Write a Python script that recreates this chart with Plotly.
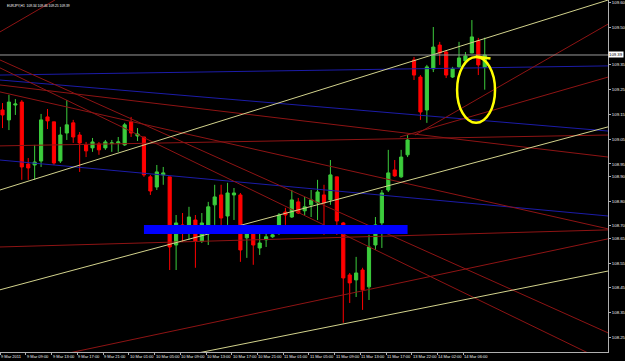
import plotly.graph_objects as go

# ---------------- data ----------------
opens = [109.168, 109.128, 109.188, 109.200, 108.950, 108.946, 108.962, 109.140, 109.120, 108.962,
         109.075, 109.116, 109.067, 109.027, 109.015, 109.031, 109.015, 109.033, 109.035, 109.027,
         109.120, 109.063, 109.059, 108.898, 108.857, 108.906, 108.898, 108.623, 108.704, 108.696,
         108.724, 108.639, 108.704, 108.785, 108.825, 108.740, 108.825, 108.825, 108.652, 108.684,
         108.611, 108.644, 108.656, 108.672, 108.756, 108.736, 108.797, 108.761, 108.785, 108.793,
         108.825, 108.805, 108.898, 108.712, 108.502, 108.482, 108.522, 108.454, 108.623, 108.712,
         108.845, 108.926, 108.898, 108.987, 109.370, 109.301, 109.168, 109.334, 109.430, 109.402,
         109.301, 109.342, 109.366, 109.398, 109.447, 109.340]
highs = [109.196, 109.229, 109.212, 109.208, 108.974, 109.027, 109.152, 109.172, 109.120, 109.100,
         109.208, 109.128, 109.079, 109.039, 109.055, 109.039, 109.047, 109.047, 109.059, 109.116,
         109.140, 109.095, 109.059, 108.906, 108.946, 108.938, 108.898, 108.744, 108.752, 108.777,
         108.744, 108.752, 108.797, 108.866, 108.866, 108.874, 108.853, 108.833, 108.704, 108.704,
         108.672, 108.684, 108.696, 108.752, 108.773, 108.845, 108.813, 108.817, 108.845, 108.886,
         108.866, 108.966, 108.898, 108.716, 108.510, 108.575, 108.531, 108.664, 108.736, 108.845,
         109.007, 108.966, 109.007, 109.067, 109.382, 109.309, 109.350, 109.503, 109.443, 109.410,
         109.342, 109.443, 109.402, 109.531, 109.459, 109.460]
lows = [109.095, 109.087, 109.148, 108.886, 108.886, 108.886, 108.938, 109.091, 108.946, 108.954,
        109.047, 109.035, 108.918, 108.978, 108.999, 108.987, 109.007, 108.999, 108.999, 109.023,
        109.059, 109.043, 108.898, 108.825, 108.845, 108.866, 108.522, 108.522, 108.635, 108.644,
        108.531, 108.631, 108.623, 108.704, 108.672, 108.704, 108.724, 108.555, 108.571, 108.543,
        108.583, 108.615, 108.652, 108.664, 108.704, 108.732, 108.748, 108.744, 108.736, 108.724,
        108.664, 108.785, 108.664, 108.309, 108.389, 108.413, 108.361, 108.401, 108.603, 108.611,
        108.837, 108.898, 108.894, 108.978, 109.289, 109.128, 109.116, 109.321, 109.350, 109.297,
        109.297, 109.338, 109.358, 109.398, 109.309, 109.250]
closes = [109.148, 109.200, 109.192, 108.938, 108.934, 108.958, 109.128, 109.124, 108.954, 109.067,
          109.108, 109.059, 109.035, 109.003, 109.039, 109.007, 109.039, 109.035, 109.039, 109.108,
          109.075, 109.071, 108.906, 108.841, 108.918, 108.914, 108.615, 108.712, 108.680, 108.736,
          108.639, 108.712, 108.777, 108.817, 108.732, 108.833, 108.833, 108.603, 108.672, 108.623,
          108.631, 108.656, 108.664, 108.744, 108.744, 108.805, 108.752, 108.777, 108.805, 108.837,
          108.793, 108.906, 108.720, 108.490, 108.470, 108.510, 108.442, 108.615, 108.704, 108.833,
          108.914, 108.902, 108.978, 109.047, 109.309, 109.160, 109.342, 109.422, 109.398, 109.309,
          109.334, 109.378, 109.386, 109.463, 109.350, 109.390]
bars = list(range(len(opens)))

x_tick_bars = [0, 4, 8, 12, 16, 20, 24, 28, 32, 36, 40, 44, 48, 52, 56, 60, 64, 68, 72]
x_tick_labels = ["9 Mar 2011", "9 Mar 09:00", "9 Mar 13:00", "9 Mar 17:00", "9 Mar 21:00",
                 "10 Mar 01:00", "10 Mar 05:00", "10 Mar 09:00", "10 Mar 13:00", "10 Mar 17:00",
                 "10 Mar 21:00", "11 Mar 01:00", "11 Mar 05:00", "11 Mar 09:00", "11 Mar 13:00",
                 "11 Mar 17:00", "13 Mar 22:00", "14 Mar 02:00", "14 Mar 06:00"]
y_tick_vals = [109.60, 109.50, 109.35, 109.25, 109.15, 109.05, 108.95, 108.90, 108.80,
               108.70, 108.65, 108.55, 108.45, 108.35, 108.25]
y_tick_labels = ["109.60", "109.50", "109.35", "109.25", "109.15", "109.05", "108.95", "108.90",
                 "108.80", "108.70", "108.65", "108.55", "108.45", "108.35", "108.25"]

last_price = 109.39
header = "EURJPY,H1  109.34 109.46 109.25 109.39"

# trend lines: (bar0, price0, bar1, price1)
yellow_lines = [(-0.4, 108.845, 94.2, 109.612),
                (-0.4, 108.442, 94.2, 109.100),
                (28.07, 108.175, 94.2, 108.518)]
red_lines = [(-0.4, 109.483, 8.16, 109.612),
             (-0.4, 109.338, 91.4, 108.183),
             (-0.4, 109.370, 94.2, 108.268),
             (-0.4, 109.269, 94.2, 108.978),
             (-0.4, 109.241, 94.2, 108.688),
             (-0.4, 109.023, 94.2, 109.067),
             (-0.4, 108.615, 94.2, 108.684),
             (8.16, 108.175, 94.2, 108.648),
             (64.15, 109.067, 94.2, 109.515),
             (61.8, 109.059, 94.2, 109.301)]
blue_lines = [(-0.4, 109.309, 94.2, 109.346),
              (-0.4, 109.289, 94.2, 109.083),
              (-0.4, 108.966, 94.2, 108.740)]
zone_bar0, zone_bar1, zone_price = 22, 63, 108.686

ellipse_bars = (70.7, 76.6)
ellipse_prices = (109.116, 109.382)
ellipse_tail = (73.6, 109.384, 75.9, 109.376)

# ---------------- figure ----------------
fig = go.Figure()

def add_lines(lines, color, width):
    xs, ys = [], []
    for (a, b, c, d) in lines:
        xs += [a, c, None]
        ys += [b, d, None]
    fig.add_trace(go.Scatter(x=xs, y=ys, mode="lines",
                             line=dict(color=color, width=width),
                             hoverinfo="skip", showlegend=False))

add_lines(blue_lines, "#1c1ca8", 1)
add_lines(red_lines, "#8e1414", 1)
add_lines(yellow_lines, "#d2d28c", 1)

fig.add_trace(go.Scatter(x=[zone_bar0, zone_bar1], y=[zone_price, zone_price], mode="lines",
                         line=dict(color="#0000ff", width=9), hoverinfo="skip", showlegend=False))
fig.add_trace(go.Scatter(x=[-0.4, 94.2], y=[last_price, last_price], mode="lines",
                         line=dict(color="#9a9a9a", width=1), hoverinfo="skip", showlegend=False))

fig.add_trace(go.Candlestick(
    x=bars, open=opens, high=highs, low=lows, close=closes,
    increasing=dict(line=dict(color="#3ccc3c", width=1), fillcolor="#3ccc3c"),
    decreasing=dict(line=dict(color="#ff0000", width=1), fillcolor="#ff0000"),
    whiskerwidth=0, showlegend=False))

fig.add_shape(type="circle", xref="x", yref="y",
              x0=ellipse_bars[0], x1=ellipse_bars[1], y0=ellipse_prices[0], y1=ellipse_prices[1],
              line=dict(color="#ffff00", width=2.5))
fig.add_shape(type="line", xref="x", yref="y",
              x0=ellipse_tail[0], y0=ellipse_tail[1], x1=ellipse_tail[2], y1=ellipse_tail[3],
              line=dict(color="#ffff00", width=2.5))

x_font = dict(size=4, color="#f2f2f2", family="Liberation Sans")
y_font = dict(size=4.3, color="#f2f2f2", family="Liberation Sans")
fig.add_annotation(text=header, xref="paper", yref="paper", x=0.008, y=0.994,
                   xanchor="left", yanchor="top", showarrow=False,
                   font=dict(size=3.3, color="#ffffff", family="Liberation Sans"))
fig.add_annotation(text=f"{last_price:.2f}", xref="paper", yref="y", x=1.0, y=last_price,
                   xanchor="left", yanchor="middle", showarrow=False, bgcolor="#ffffff",
                   borderpad=0, font=dict(size=4.3, color="#000000", family="Liberation Sans"))
for b, t in zip(x_tick_bars, x_tick_labels):
    fig.add_annotation(text=t, xref="x", yref="paper", x=b - 0.35, y=0,
                       xanchor="left", yanchor="top", yshift=-1, showarrow=False,
                       borderpad=0, font=x_font)

fig.update_layout(
    width=625, height=361,
    margin=dict(l=0, r=17, t=0, b=9),
    paper_bgcolor="#000000", plot_bgcolor="#000000",
    showlegend=False,
    xaxis=dict(range=[-0.389, 94.17], rangeslider=dict(visible=False),
               tickvals=[b - 0.35 for b in x_tick_bars], showticklabels=False,
               showgrid=False, zeroline=False, showline=True, linecolor="#b0b0b0",
               linewidth=1, mirror=True, ticks="outside", ticklen=2, tickcolor="#b0b0b0",
               automargin=False),
    yaxis=dict(range=[108.191, 109.612], side="right",
               tickvals=y_tick_vals, ticktext=y_tick_labels,
               showgrid=False, zeroline=False, showline=True, linecolor="#b0b0b0",
               linewidth=1, mirror=True, ticks="outside", ticklen=2, tickcolor="#b0b0b0",
               tickfont=y_font, automargin=False),
)

fig.write_html("out.html")
